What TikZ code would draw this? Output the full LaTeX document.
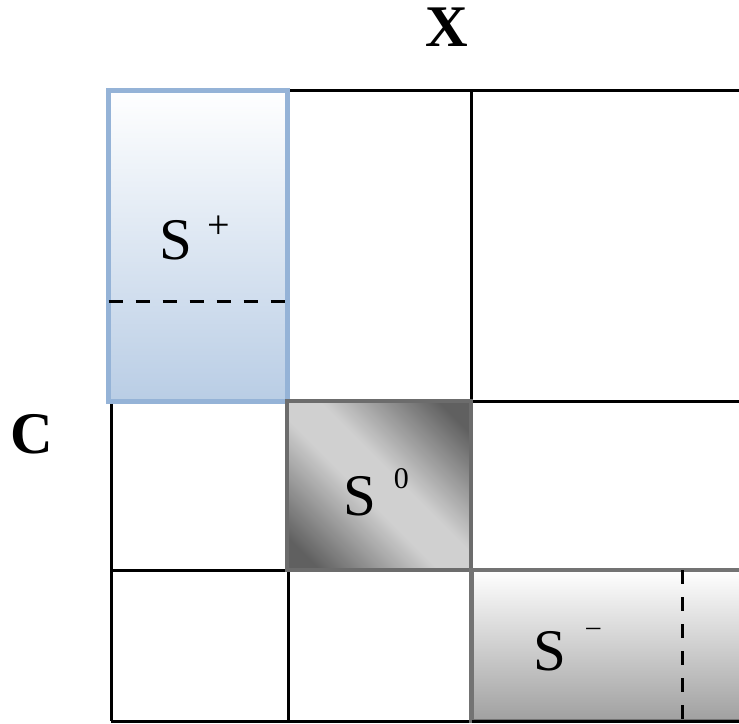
\documentclass[tikz,border=0pt]{standalone}
\usepackage{fontspec}
\setmainfont{Liberation Serif}
\usetikzlibrary{positioning, calc}
\definecolor{plusblue}{RGB}{185,205,229}
\definecolor{plusedge}{RGB}{149,179,215}
\definecolor{zeroedge}{RGB}{108,108,108}
\definecolor{zerodark}{RGB}{96,96,96}
\definecolor{zerolight}{RGB}{208,208,208}
\definecolor{minusgray}{RGB}{160,160,160}
\definecolor{minusedge}{RGB}{115,115,115}
\pgfdeclarehorizontalshading{zeroshade}{100bp}{color(0bp)=(zerodark); color(21bp)=(zerodark);
  color(45bp)=(zerolight); color(55bp)=(zerolight); color(79bp)=(zerodark); color(100bp)=(zerodark)}

% S with a raised, detached superscript
\newcommand{\ssup}[3]{S\hspace{#1}\raisebox{#2}{\fontsize{30}{36}\selectfont #3}}

\begin{document}
\begin{tikzpicture}[x=1pt, y=-1pt,
      grid/.style={line width=3pt, draw=black},
      setbox/.style={rectangle, line width=4.5pt, inner sep=0pt, outer sep=0pt},
      cut/.style={line width=3pt, dash pattern=on 14pt off 13pt},
      lbl/.style={font=\fontsize{59}{70}\selectfont, inner sep=0pt},
      axislbl/.style={font=\fontsize{59}{70}\selectfont\bfseries, inner sep=0pt}
    ]
    \useasboundingbox (0,0) rectangle (739,723);
    % table lines
    \draw[grid] (288,90) -- (739,90);
    \foreach \y in {401,570,721}
      \draw[grid] (111,\y) -- (739,\y);
    \draw[grid] (111,401) -- (111,721);
    \foreach \x in {288,471}
      \draw[grid] (\x,90) -- (\x,721);
    % sets
    \node[setbox, draw=plusedge, top color=white, bottom color=plusblue,
          minimum width=179pt, minimum height=311pt] (splus) at (198,246) {};
    \node[setbox, draw=zeroedge, shading=zeroshade, shading angle=45,
          minimum width=184pt, minimum height=169pt] (szero) at (379,485.5) {};
    \node[setbox, draw=minusedge, top color=white, bottom color=minusgray,
          minimum width=280pt, minimum height=151pt] (sminus) at (611.5,645.5) {};
    \draw[grid] (sminus.south west) -- (sminus.south east);
    % cuts
    \coordinate (pcut) at ($(splus.north west)!0.677!(splus.south west)$);
    \draw[cut] (pcut) -- (pcut -| splus.east);
    \coordinate (mcut) at ($(sminus.north west)!0.755!(sminus.north east)$);
    \draw[cut] (mcut) -- (mcut |- sminus.south);
    % labels
    \node[lbl] (lplus) at (195,238) {\ssup{15pt}{21pt}{\fontsize{40}{44}\selectfont +}};
    \node[lbl] (lzero) at (376,492) {\ssup{18pt}{27pt}{0}};
    \node[lbl] (lminus) at (567,650) {\ssup{20pt}{35pt}{\fontsize{28}{30}\selectfont –}};
    \node[axislbl] (xlbl) at (447,27) {X};
    \node[axislbl] (clbl) at (32,434) {C};
  \end{tikzpicture}
\end{document}
